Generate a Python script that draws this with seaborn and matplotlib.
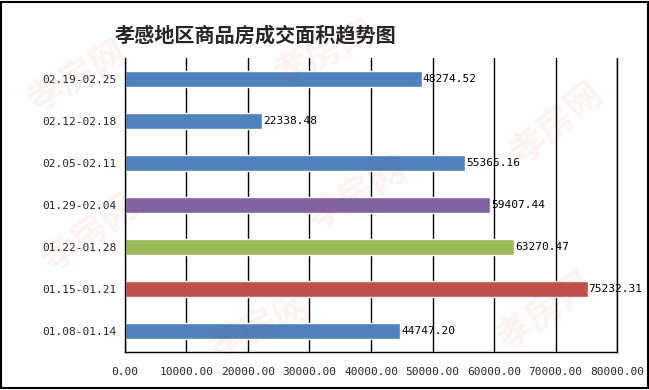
import matplotlib
matplotlib.use("Agg")
import matplotlib.pyplot as plt
import seaborn as sns
import pandas as pd
from matplotlib.patches import Rectangle
from matplotlib.ticker import FixedLocator, FuncFormatter

# data, top to bottom as in the chart
weeks = ["02.19-02.25", "02.12-02.18", "02.05-02.11", "01.29-02.04",
         "01.22-01.28", "01.15-01.21", "01.08-01.14"]
area = [48274.52, 22338.48, 55365.16, 59407.44, 63270.47, 75232.31, 44747.20]
bar_colors = ["#4F81BD", "#4F81BD", "#4F81BD", "#8064A2",
              "#9BBB59", "#C0504D", "#4F81BD"]
x_ticks = [0, 10000, 20000, 30000, 40000, 50000, 60000, 70000, 80000]

df = pd.DataFrame({"week": weeks, "area": area})

sns.set_style("white")
plt.rcParams["font.family"] = ["DejaVu Sans Mono", "Noto Sans CJK SC"]

fig = plt.figure(figsize=(6.49, 3.90), dpi=100)
ax = fig.add_axes([0.1926, 0.0974, 0.7581, 0.7538])

sns.barplot(data=df, x="area", y="week", hue="week", palette=bar_colors,
            order=weeks, hue_order=weeks, width=0.4, saturation=1,
            legend=False, ax=ax)

# faint watermark, kept inside the frame
for (wx, wy, rot) in [(0.12, 0.80, 30), (0.50, 0.86, 25), (0.14, 0.40, 35),
                      (0.55, 0.50, 30), (0.86, 0.68, 40), (0.40, 0.16, 25),
                      (0.84, 0.20, 35)]:
    fig.text(wx, wy, "孝房网", fontsize=26, color="#E03030", alpha=0.06,
             rotation=rot, ha="center", va="center", family="Noto Sans CJK SC",
             fontweight="bold")

ax.set_xlim(0, 80000)
ax.set_ylim(6.5, -0.5)
ax.xaxis.set_major_locator(FixedLocator(x_ticks))
ax.xaxis.set_major_formatter(FuncFormatter(lambda v, p: f"{v:.2f}"))
ax.grid(axis="x", color="black", linewidth=1)
ax.set_axisbelow(True)
ax.axvline(80000, color="black", linewidth=1, clip_on=False, zorder=0.5)

ax.set_yticks(range(len(weeks)))
ax.set_yticklabels(weeks)
ax.set_yticks([i - 0.5 for i in range(len(weeks) + 1)], minor=True)
ax.tick_params(axis="y", which="major", length=0, pad=6, labelsize=8)
ax.tick_params(axis="y", which="minor", length=5, width=1, color="black", direction="out")
ax.tick_params(axis="x", length=5, width=1, color="black", direction="out",
               labelsize=8, pad=6)
ax.set_xlabel("")
ax.set_ylabel("")

for s in ["top", "right"]:
    ax.spines[s].set_visible(False)
for s in ["left", "bottom"]:
    ax.spines[s].set_color("black")
    ax.spines[s].set_linewidth(1)

for i, v in enumerate(area):
    ax.text(v + 150, i, f"{v:.2f}", va="center", ha="left", fontsize=8,
            color="black")

fig.text(0.393, 0.91, "孝感地区商品房成交面积趋势图", fontsize=14.5,
         fontweight="bold", ha="center", va="center", family="Noto Sans CJK SC")

# figure border
fig.patches.append(Rectangle((0.002, 0.004), 0.996, 0.992, transform=fig.transFigure,
                             fill=False, edgecolor="black", linewidth=1.5))

fig.savefig("out.png", dpi=100)
